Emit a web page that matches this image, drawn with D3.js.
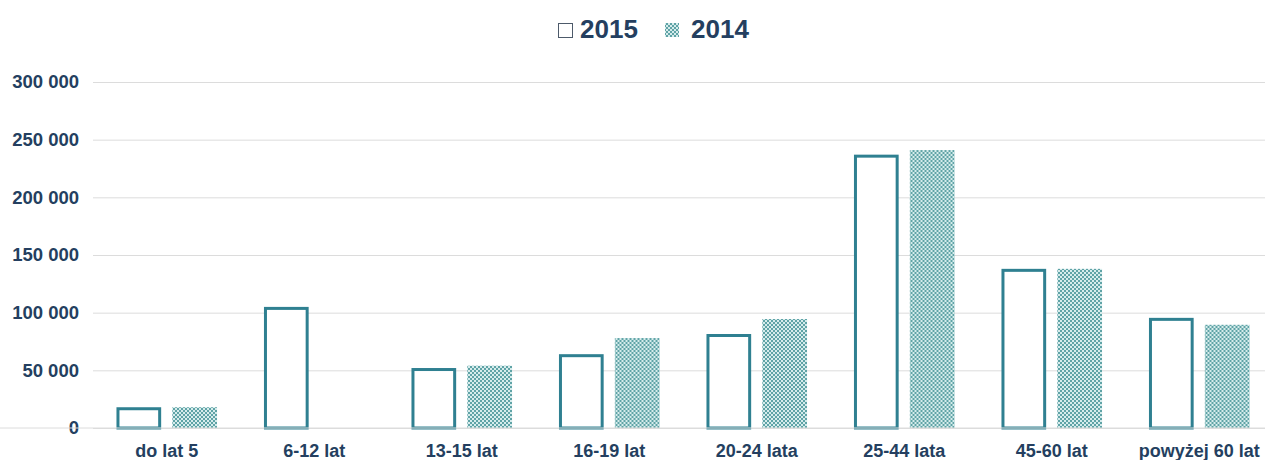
<!doctype html>
<html lang="pl">
<head>
  <meta charset="utf-8">
  <script src="https://d3js.org/d3.v7.min.js"></script>
  <style>
    body { margin: 0; background: #fff; }
    text { font-family: "Liberation Sans", Arial, sans-serif; }
  </style>
</head>
<body>
<div id="chart"></div>
<script>
// dane
var categories = ["do lat 5", "6-12 lat", "13-15 lat", "16-19 lat", "20-24 lata", "25-44 lata", "45-60 lat", "powyżej 60 lat"];
var series = ["2015", "2014"];
var values2015 = [18000, 105000, 52000, 64000, 81500, 237000, 138000, 95500];
var values2014 = [18000, 0, 54000, 78000, 94500, 241000, 138000, 89500];
var yTicks = [0, 50000, 100000, 150000, 200000, 250000, 300000];

var width = 1273, height = 460;
var margin = {top: 82, right: 0, bottom: 32, left: 93};

var teal = "#2f8091", textColor = "#243f60";

var svg = d3.select("#chart").append("svg")
    .attr("width", width)
    .attr("height", height);

// wzor kratki dla 2014
var defs = svg.append("defs");
var pat = defs.append("pattern")
    .attr("id", "hatch")
    .attr("patternUnits", "userSpaceOnUse")
    .attr("width", 4).attr("height", 4);
pat.append("rect").attr("width", 4).attr("height", 4).attr("fill", "#d6ecec");
pat.append("rect").attr("x", 0).attr("y", 0).attr("width", 2).attr("height", 2).attr("fill", "#5fa3a6");
pat.append("rect").attr("x", 2).attr("y", 2).attr("width", 2).attr("height", 2).attr("fill", "#5fa3a6");

var x = d3.scaleBand()
    .domain(categories)
    .range([margin.left, width - margin.right])
    .paddingInner(0)
    .paddingOuter(0);

var y = d3.scaleLinear()
    .domain([0, 300000])
    .range([height - margin.bottom, margin.top]);

// slot dla dwoch slupkow w kategorii
var inner = d3.scaleBand()
    .domain(series)
    .range([0, x.bandwidth()])
    .paddingInner(0.2)
    .paddingOuter(0.42);

var fmt = function(d) { return d3.format(",")(d).replace(/,/g, " "); };

// linie siatki + etykiety osi y
var yAxis = svg.append("g")
    .attr("transform", "translate(" + margin.left + ",0)")
    .call(d3.axisLeft(y).tickValues(yTicks).tickSize(-(width - 8 - margin.left)).tickPadding(14).tickFormat(fmt));
yAxis.select(".domain").remove();
yAxis.selectAll(".tick line").attr("stroke", "#dcdcdc").attr("stroke-width", 1);
yAxis.selectAll(".tick text")
    .attr("fill", textColor)
    .style("font-size", "18.5px")
    .style("font-weight", "bold");

var groups = svg.selectAll(".grp")
    .data(categories)
  .enter().append("g")
    .attr("transform", function(d) { return "translate(" + x(d) + ",0)"; });

groups.append("rect")
    .attr("x", inner("2015") + 1.5)
    .attr("y", function(d, i) { return y(values2015[i]) + 1.5; })
    .attr("width", inner.bandwidth() - 3)
    .attr("height", function(d, i) { return Math.max(0, y(0) - y(values2015[i]) - 1.5); })
    .attr("fill", "#fff")
    .attr("stroke", teal)
    .attr("stroke-width", 3);

groups.append("rect")
    .attr("x", inner("2014"))
    .attr("y", function(d, i) { return y(values2014[i]); })
    .attr("width", inner.bandwidth())
    .attr("height", function(d, i) { return y(0) - y(values2014[i]); })
    .attr("fill", "url(#hatch)");

// os x
var xAxis = svg.append("g")
    .attr("transform", "translate(0," + y(0) + ")")
    .call(d3.axisBottom(x).tickSize(0).tickPadding(16));
xAxis.select(".domain").attr("stroke", "#dcdcdc").attr("d", "M0,0H" + (width - 8));
xAxis.selectAll(".tick text")
    .attr("fill", textColor)
    .style("font-size", "18px")
    .style("font-weight", "bold");

// legenda
var legend = svg.append("g").attr("transform", "translate(558,23)");
legend.append("rect").attr("x", 0.5).attr("y", 0.5).attr("width", 14).attr("height", 14)
    .attr("fill", "#fff").attr("stroke", "#4d5a6a").attr("stroke-width", 1);
legend.append("text").attr("x", 22).attr("y", 14.5).text(series[0])
    .attr("fill", textColor).style("font-size", "26px").style("font-weight", "bold");
legend.append("rect").attr("x", 107).attr("y", 0).attr("width", 14).attr("height", 14)
    .attr("fill", "url(#hatch)");
legend.append("text").attr("x", 133).attr("y", 14.5).text(series[1])
    .attr("fill", textColor).style("font-size", "26px").style("font-weight", "bold");
</script>
</body>
</html>
